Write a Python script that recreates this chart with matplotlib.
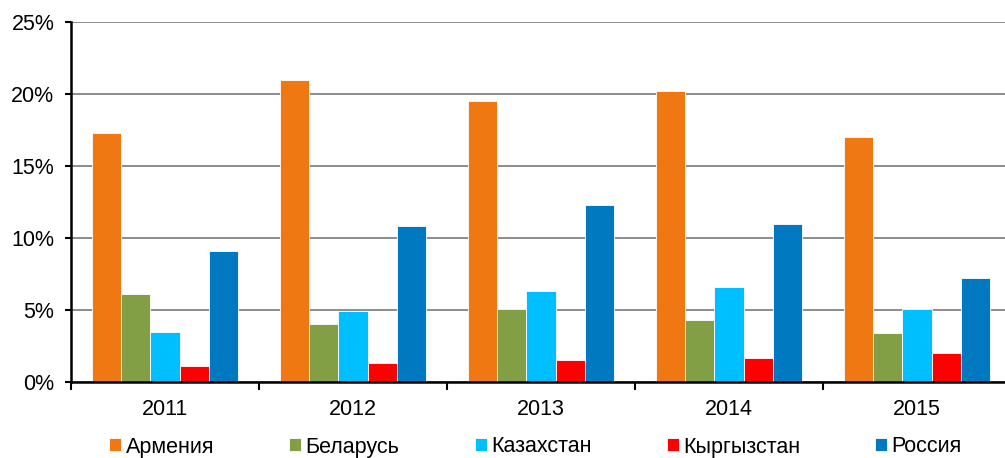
import numpy as np
import matplotlib.pyplot as plt
from matplotlib.ticker import FuncFormatter, FixedLocator

plt.rcParams['font.family'] = ['Liberation Sans', 'DejaVu Sans']

years = ['2011', '2012', '2013', '2014', '2015']
countries = ['Армения', 'Беларусь', 'Казахстан', 'Кыргызстан', 'Россия']
colors = ['#F07812', '#839F45', '#00BFFF', '#FF0000', '#0079C1']

armenia = [17.3, 21.0, 19.5, 20.2, 17.0]
belarus = [6.1, 4.0, 5.1, 4.3, 3.4]
kazakhstan = [3.5, 4.9, 6.3, 6.6, 5.1]
kyrgyzstan = [1.1, 1.3, 1.5, 1.7, 2.0]
russia = [9.1, 10.8, 12.3, 11.0, 7.2]
series = [armenia, belarus, kazakhstan, kyrgyzstan, russia]

fs = 15.5

fig = plt.figure(figsize=(10.05, 4.58), dpi=100)
ax = fig.add_axes([71 / 1005, 76 / 458, 940 / 1005, 360 / 458])

x = np.arange(len(years))
w = 0.155
for i, (vals, c, name) in enumerate(zip(series, colors, countries)):
    ax.bar(x + (i - 2) * w, vals, width=w, color=c, edgecolor='white',
           linewidth=0.6, label=name, zorder=3)

ax.set_xlim(-0.5, 4.5)
ax.set_ylim(0, 25)
ax.set_yticks(np.arange(0, 26, 5))
ax.yaxis.set_major_formatter(FuncFormatter(lambda v, p: f'{v:.0f}%'))
ax.grid(axis='y', color='#8c8c8c', linewidth=1.4, zorder=0)

ax.set_xticks(x)
ax.set_xticklabels(years)
ax.xaxis.set_minor_locator(FixedLocator(np.arange(-0.5, 5, 1)))
ax.tick_params(axis='x', which='major', length=0, pad=12, labelsize=fs)
ax.tick_params(axis='x', which='minor', length=6, width=1.5, direction='out')
ax.tick_params(axis='y', length=4, width=1.5, pad=8, labelsize=fs)

for s in ['top', 'right']:
    ax.spines[s].set_visible(False)
for s in ['left', 'bottom']:
    ax.spines[s].set_linewidth(1.8)
    ax.spines[s].set_zorder(4)

fig.legend(loc='center', bbox_to_anchor=(0.533, 1 - 447 / 458), ncol=5,
           frameon=False, fontsize=fs, handlelength=0.55, handleheight=0.55,
           handletextpad=0.2, columnspacing=3.5, borderpad=0)

fig.savefig('out.png', dpi=100)
